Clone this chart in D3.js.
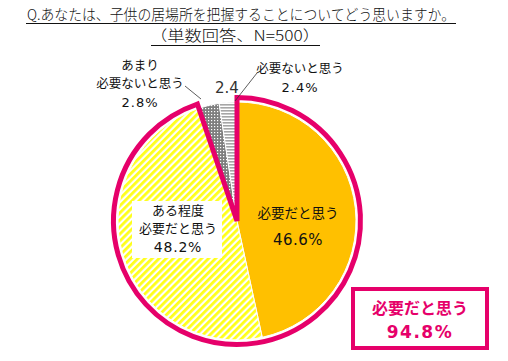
<!DOCTYPE html>
<html><head><meta charset="utf-8">
<script src="https://cdn.jsdelivr.net/npm/d3@7"></script>
<style>
html,body{margin:0;padding:0;background:#fff;}
svg{display:block;font-family:"Noto Sans CJK JP","Noto Sans",sans-serif;}
.num{font-family:"DejaVu Sans",sans-serif;}
</style></head>
<body>
<svg id="c" width="508" height="361"></svg>
<script>
const titleLines = ["Q.あなたは、子供の居場所を把握することについてどう思いますか。", "（単数回答、N=500）"];
const categories = ["必要だと思う", "ある程度必要だと思う", "あまり必要ないと思う", "必要ないと思う"];
const labelLines = [["必要だと思う"], ["ある程度", "必要だと思う"], ["あまり", "必要ないと思う"], ["必要ないと思う"]];
const values = [46.6, 48.2, 2.8, 2.4];
const summaryLabel = "必要だと思う";

const pink = "#E6006A";
const ink = "#111";
const svg = d3.select("#c");
const defs = svg.append("defs");

// yellow diagonal stripes
const py = defs.append("pattern").attr("id","pYellow").attr("patternUnits","userSpaceOnUse")
  .attr("width",5).attr("height",5).attr("patternTransform","rotate(45)");
py.append("rect").attr("width",5).attr("height",5).attr("fill","#fff");
py.append("rect").attr("width",2.8).attr("height",5).attr("fill","#FFFF1A");

// gray dots
const pd = defs.append("pattern").attr("id","pDots").attr("patternUnits","userSpaceOnUse")
  .attr("width",3).attr("height",3);
pd.append("rect").attr("width",3).attr("height",3).attr("fill","#7F7F7F");
pd.append("rect").attr("x",1).attr("y",1).attr("width",1.2).attr("height",1.2).attr("fill","#fff");

// horizontal stripes
const ph = defs.append("pattern").attr("id","pHoriz").attr("patternUnits","userSpaceOnUse")
  .attr("width",4).attr("height",3);
ph.append("rect").attr("width",4).attr("height",3).attr("fill","#fff");
ph.append("rect").attr("width",4).attr("height",1.6).attr("fill","#A6A6A6");

const fills = ["#FFC000","url(#pYellow)","url(#pDots)","url(#pHoriz)"];

// title
const titleSpans = [[27,428],[150,170]];
titleLines.forEach((s,i)=>{
  svg.append("text").attr("x",titleSpans[i][0]).attr("y",20+i*21)
    .attr("textLength",titleSpans[i][1]).attr("lengthAdjust","spacingAndGlyphs")
    .attr("font-size",14.5).attr("font-weight",300).attr("fill",ink).text(s);
});
svg.append("line").attr("x1",26).attr("x2",456).attr("y1",23.5).attr("y2",23.5).attr("stroke",ink).attr("stroke-width",1);
svg.append("line").attr("x1",151).attr("x2",320).attr("y1",45.5).attr("y2",45.5).attr("stroke",ink).attr("stroke-width",1);

const cx = 237, cy = 221, R = 119;
const g = svg.append("g").attr("transform",`translate(${cx},${cy})`);
const pie = d3.pie().sort(null).value(d=>d).startAngle(0).endAngle(2*Math.PI);
const arcs = pie(values);
const arc = d3.arc().innerRadius(0).outerRadius(R);
g.selectAll("path.slice").data(arcs).join("path").attr("class","slice")
  .attr("d",arc).attr("fill",(d,i)=>fills[i]).attr("stroke","#fff").attr("stroke-width",1);

// pink outline around top-2 slices
const total2 = values[0]+values[1];
const sumAngle = arcs[1].endAngle;
const pinkArc = d3.arc().innerRadius(0).outerRadius(R+4.5).startAngle(0).endAngle(sumAngle);
g.append("path").attr("d",pinkArc()).attr("fill","none").attr("stroke",pink)
  .attr("stroke-width",5).attr("stroke-linejoin","miter");

const fmt = v => v.toFixed(1)+"%";
function jp(x,y,s,size){
  return svg.append("text").attr("x",x).attr("y",y).attr("text-anchor","middle")
    .attr("font-size",size).attr("font-weight",400).attr("fill",ink).text(s);
}
function num(x,y,s,size,ls){
  return svg.append("text").attr("class","num").attr("x",x).attr("y",y).attr("text-anchor","middle")
    .attr("font-size",size).attr("letter-spacing",ls).attr("fill",ink).text(s);
}
// slice 0
jp(298,218,labelLines[0][0],13.5);
num(298,245,fmt(values[0]),15,0.5);

// slice 1 with white box
svg.append("rect").attr("x",132).attr("y",201).attr("width",90).attr("height",57).attr("fill","#fff");
jp(178,215,labelLines[1][0],13);
jp(178,233,labelLines[1][1],13);
num(178,252,fmt(values[1]),14,0.8);

// slice 2 outside label
jp(140,70,labelLines[2][0],12.5);
jp(140,88,labelLines[2][1],12.5);
num(140,107,fmt(values[2]),13,1);
svg.append("line").attr("x1",185).attr("y1",86).attr("x2",201).attr("y2",99).attr("stroke","#333").attr("stroke-width",0.8);

// slice 3 outside label
jp(300,73,labelLines[3][0],12.5);
num(300,92,fmt(values[3]),13,1);
svg.append("line").attr("x1",235).attr("y1",101).attr("x2",257).attr("y2",73).attr("stroke","#333").attr("stroke-width",0.8);
num(227,93,values[3].toFixed(1),15,0).attr("fill","#333");

// summary box
svg.append("rect").attr("x",353).attr("y",289).attr("width",134).attr("height",59).attr("fill","#fff")
  .attr("stroke",pink).attr("stroke-width",4);
svg.append("text").attr("x",420).attr("y",314).attr("text-anchor","middle").attr("font-size",16).attr("font-weight","bold").attr("fill",pink).text(summaryLabel);
svg.append("text").attr("class","num").attr("x",420).attr("y",338).attr("text-anchor","middle").attr("font-size",17).attr("letter-spacing",1.5).attr("font-weight","bold").attr("fill",pink).text(fmt(total2));
</script>
</body></html>
